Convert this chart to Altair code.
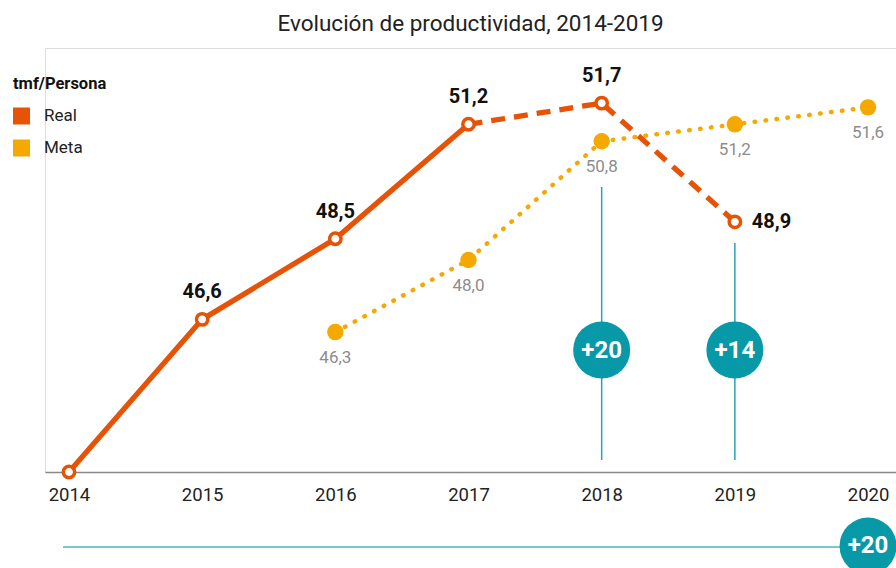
import altair as alt
import pandas as pd

# ---- data ----
years_real = [2014, 2015, 2016, 2017, 2018, 2019]
values_real = [43.0, 46.6, 48.5, 51.2, 51.7, 48.9]
years_meta = [2016, 2017, 2018, 2019, 2020]
values_meta = [46.3, 48.0, 50.8, 51.2, 51.6]
delta_years = [2018, 2019]
delta_labels = ["+20", "+14"]
total_years = [2020]
total_labels = ["+20"]
x_ticks = [2014, 2015, 2016, 2017, 2018, 2019, 2020]
series_names = ["Real", "Meta"]

ORANGE = "#E65306"
AMBER = "#F5A800"
TEAL = "#0899A9"
TEAL_LINE = "#2BA3B1"
FONT = "Roboto"

real_df = pd.DataFrame({"year": years_real, "value": values_real, "serie": "Real"})
meta_df = pd.DataFrame({"year": years_meta, "value": values_meta, "serie": "Meta"})
delta_df = pd.DataFrame({"year": delta_years, "label": delta_labels})
total_df = pd.DataFrame({"year": total_years, "label": total_labels})

x_enc = alt.X(
    "year:Q",
    scale=alt.Scale(domain=[2013.82, 2020.21], nice=False, zero=False),
    axis=alt.Axis(values=x_ticks, format="d", title=None, grid=False, ticks=False,
                  domainColor="#888888", domainWidth=1.5, labelFontSize=18.5,
                  labelColor="#222222", labelPadding=13, labelFont=FONT),
)
y_enc = alt.Y("value:Q", scale=alt.Scale(domain=[43, 53], nice=False, zero=False), axis=None)
color_scale = alt.Scale(domain=series_names, range=[ORANGE, AMBER])

label_expr = "replace(format(datum.value, '.1f'), '.', ',')"

real_base = alt.Chart(real_df).transform_calculate(label=label_expr)
meta_base = alt.Chart(meta_df).transform_calculate(label=label_expr)

real_solid = real_base.transform_filter("datum.year <= 2017").mark_line(
    strokeWidth=5.3, color=ORANGE).encode(x=x_enc, y=y_enc)
real_dash = real_base.transform_filter("datum.year >= 2017").mark_line(
    strokeWidth=5.3, color=ORANGE, strokeDash=[14, 9]).encode(x=x_enc, y=y_enc)
real_pts = real_base.mark_point(shape="circle", filled=True, fill="white", stroke=ORANGE,
                                strokeWidth=3.5, size=130, opacity=1).encode(x=x_enc, y=y_enc)
real_lbl_top = real_base.transform_filter("datum.year != 2014 && datum.year != 2019").mark_text(
    dy=-27, fontSize=20, fontWeight="bold", color="#111111", font=FONT, baseline="middle"
).encode(x=x_enc, y=y_enc, text="label:N")
real_lbl_right = real_base.transform_filter("datum.year == 2019").mark_text(
    dx=17, fontSize=20, fontWeight="bold", color="#111111", font=FONT, align="left", baseline="middle"
).encode(x=x_enc, y=y_enc, text="label:N")

meta_line = meta_base.mark_line(strokeWidth=4.5, color=AMBER, strokeDash=[0.5, 10.5],
                                strokeCap="round").encode(x=x_enc, y=y_enc)
meta_pts = meta_base.mark_circle(size=270, opacity=1).encode(
    x=x_enc, y=y_enc,
    color=alt.Color("serie:N", scale=color_scale, legend=alt.Legend(
        orient="none", legendX=-32, legendY=28, title="tmf/Persona",
        titleFontSize=16.5, titleFontWeight="bold", titleColor="#111111", titleFont=FONT,
        labelFontSize=17, labelFont=FONT, labelColor="#222222",
        symbolType="square", symbolSize=289, symbolStrokeWidth=0, symbolOpacity=1,
        rowPadding=14, titlePadding=15, labelOffset=14)))
meta_lbl = meta_base.mark_text(dy=26, fontSize=17, color="#8C8C8C", font=FONT,
                               baseline="middle").encode(x=x_enc, y=y_enc, text="label:N")

delta_base = alt.Chart(delta_df)
rule_2018 = delta_base.transform_filter("datum.year == 2018").mark_rule(
    color=TEAL_LINE, strokeWidth=1.5).encode(x=x_enc, y=alt.value(139), y2=alt.value(412))
rule_2019 = delta_base.transform_filter("datum.year == 2019").mark_rule(
    color=TEAL_LINE, strokeWidth=1.5).encode(x=x_enc, y=alt.value(195), y2=alt.value(412))
delta_circ = delta_base.mark_circle(size=3250, color=TEAL, opacity=1).encode(
    x=x_enc, y=alt.value(302))
delta_txt = delta_base.mark_text(color="white", fontSize=24, fontWeight="bold", font=FONT,
                                 baseline="middle").encode(x=x_enc, y=alt.value(303), text="label:N")

total_base = alt.Chart(total_df)
total_rule = total_base.mark_rule(color="#4DB6BE", strokeWidth=1.5).encode(
    x=x_enc, x2=alt.value(18), y=alt.value(499))
total_circ = total_base.mark_circle(size=3250, color=TEAL, opacity=1).encode(
    x=x_enc, y=alt.value(498))
total_txt = total_base.mark_text(color="white", fontSize=24, fontWeight="bold", font=FONT,
                                 baseline="middle").encode(x=x_enc, y=alt.value(498), text="label:N")

chart = alt.layer(
    rule_2018, rule_2019, delta_circ, delta_txt,
    total_rule, total_circ, total_txt,
    meta_line, meta_pts, meta_lbl,
    real_solid, real_dash, real_pts, real_lbl_top, real_lbl_right,
).properties(
    width=851, height=424,
    title=alt.TitleParams("Evolución de productividad, 2014-2019", fontSize=22.5, font=FONT,
                          fontWeight="normal", color="#222222", anchor="middle", offset=13),
    autosize=alt.AutoSizeParams(type="none"),
    padding={"left": 45, "top": 48, "right": 0, "bottom": 96},
).configure_view(stroke=None).configure(font=FONT)

chart.save("out.html", embed_options={"renderer": "svg", "actions": False})
